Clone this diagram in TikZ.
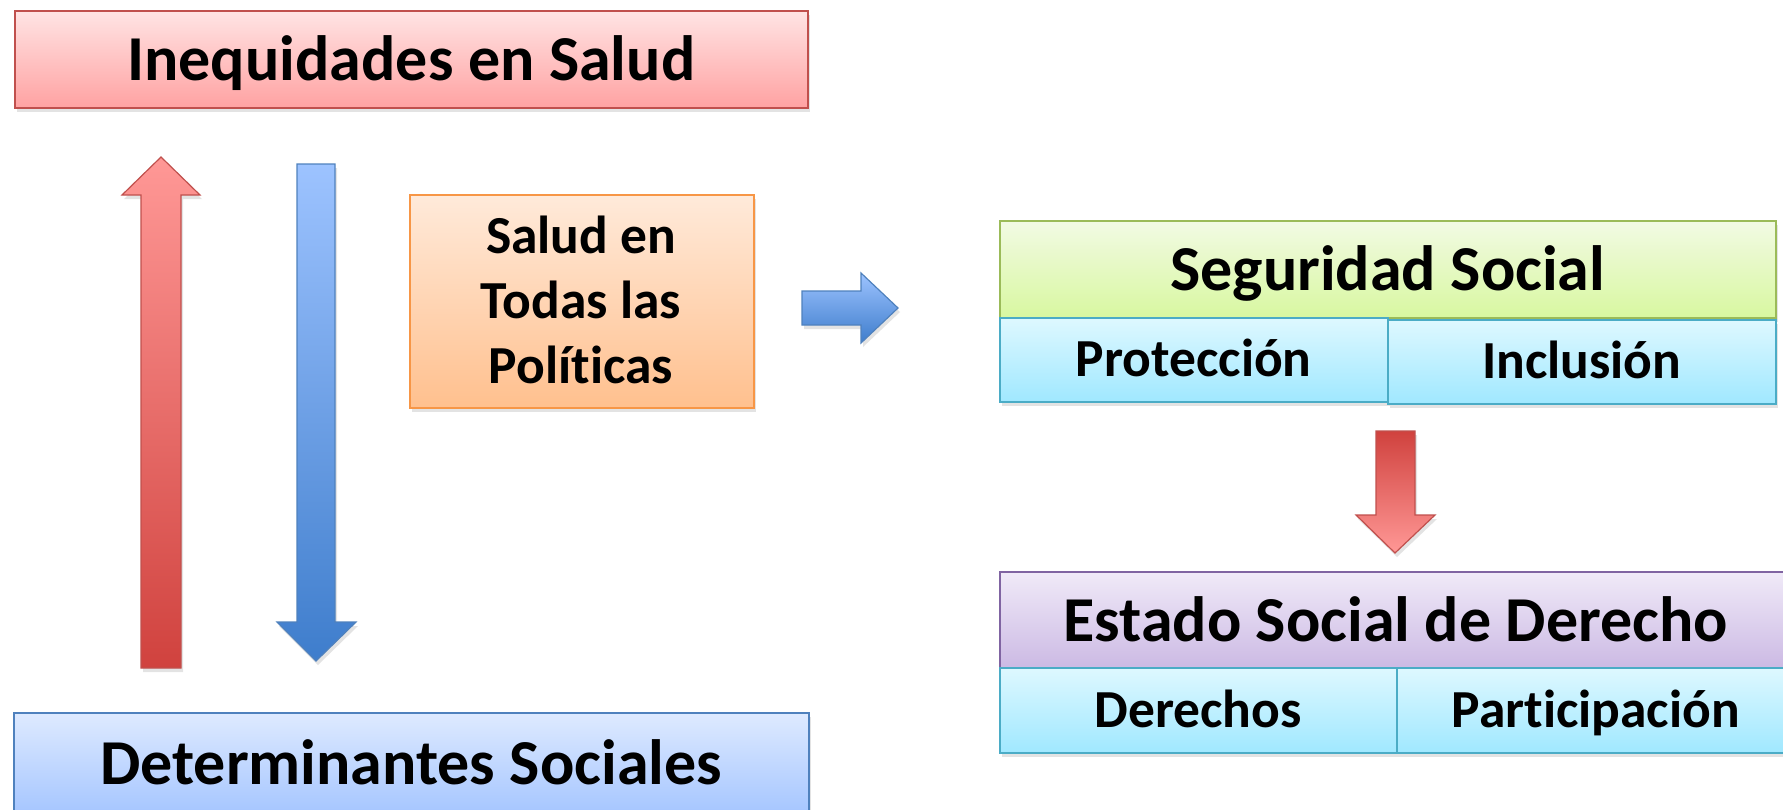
\documentclass[tikz,border=0pt]{standalone}
\usepackage{fontspec}
\setmainfont{Carlito}[Ligatures=NoCommon]
\usetikzlibrary{shadows}
\definecolor{redB}{RGB}{192,80,77}
\definecolor{redT}{RGB}{255,228,228}
\definecolor{redM}{RGB}{255,162,162}
\definecolor{arrRedL}{RGB}{255,152,150}
\definecolor{arrRedD}{RGB}{208,66,62}
\definecolor{bluB}{RGB}{79,129,189}
\definecolor{bluT}{RGB}{222,234,255}
\definecolor{bluM}{RGB}{166,198,255}
\definecolor{arrBluL}{RGB}{157,195,255}
\definecolor{arrBluD}{RGB}{62,125,204}
\definecolor{orgB}{RGB}{247,150,70}
\definecolor{orgT}{RGB}{255,234,218}
\definecolor{orgM}{RGB}{255,192,142}
\definecolor{grnB}{RGB}{155,187,89}
\definecolor{grnT}{RGB}{242,250,228}
\definecolor{grnM}{RGB}{216,248,160}
\definecolor{cyaB}{RGB}{75,172,198}
\definecolor{cyaT}{RGB}{222,248,255}
\definecolor{cyaM}{RGB}{160,232,255}
\definecolor{purB}{RGB}{128,100,162}
\definecolor{purT}{RGB}{240,234,248}
\definecolor{purM}{RGB}{204,186,228}
\begin{document}
\begin{tikzpicture}[x=1pt,y=-1pt,
  shad/.style={drop shadow={opacity=0.22,shadow xshift=2pt,shadow yshift=-4pt}},
  bigbox/.style={draw, line width=1.5pt, inner sep=0pt, anchor=north west,
    font=\bfseries\fontsize{64}{70}\selectfont, text height=43pt, text depth=0pt, shad},
  cellbox/.style={draw, line width=1.5pt, inner sep=0pt, anchor=north west,
    font=\bfseries\fontsize{53.5}{60}\selectfont, text height=34pt, text depth=0pt, shad,
    top color=cyaT, bottom color=cyaM, draw=cyaB},
  saludtxt/.style={anchor=base, font=\bfseries\fontsize{53.5}{60}\selectfont, inner sep=0pt},
  arrowshape/.style={line width=1.2pt, shad}
]
\useasboundingbox (0,0) rectangle (1783,809);

% left boxes
\node[bigbox, top color=redT, bottom color=redM, draw=redB,
  minimum width=793pt, minimum height=97pt] (ineq) at (14,10) {Inequidades en Salud};
\node[bigbox, top color=bluT, bottom color=bluM, draw=bluB,
  minimum width=795pt, minimum height=100pt] (det) at (13,712) {Determinantes Sociales};

% Salud en Todas las Politicas
\node[draw=orgB, line width=1.5pt, inner sep=0pt, anchor=north west, shad,
  top color=orgT, bottom color=orgM, minimum width=344pt, minimum height=213pt] (salud) at (409,194) {};
\node[saludtxt] (s1) at (581,253) {Salud en};
\node[saludtxt] (s2) at (581,318) {Todas las};
\node[saludtxt] (s3) at (581,383) {Políticas};

% right boxes
\node[bigbox, top color=grnT, bottom color=grnM, draw=grnB,
  minimum width=776pt, minimum height=97pt] (seg) at (999,220) {Seguridad Social};
\node[cellbox, minimum width=388pt, minimum height=84pt] (prot) at (999,317) {Protección};
\node[cellbox, minimum width=388pt, minimum height=84pt] (incl) at (1387,319) {Inclusión};

\node[bigbox, top color=purT, bottom color=purM, draw=purB,
  minimum width=792pt, minimum height=96pt] (estado) at (999,571) {Estado Social de Derecho};
\node[cellbox, minimum width=397pt, minimum height=85pt] (der) at (999,667) {Derechos};
\node[cellbox, minimum width=398pt, minimum height=85pt] (part) at (1396,667) {Participación};

% block arrows
\draw[arrowshape, draw=redB, top color=arrRedL, bottom color=arrRedD]
  (141,668) -- (141,195) -- (122,195) -- (161,157) -- (200,195) -- (181,195) -- (181,668) -- cycle;
\draw[arrowshape, draw=bluB, top color=arrBluL, bottom color=arrBluD]
  (297,164) -- (335,164) -- (335,622) -- (356,622) -- (316,661) -- (277,622) -- (297,622) -- cycle;
\draw[arrowshape, draw=bluB, top color=arrBluL, bottom color=arrBluD]
  (802,291) -- (861,291) -- (861,273) -- (898,308) -- (861,343) -- (861,325) -- (802,325) -- cycle;
\draw[arrowshape, draw=redB, top color=arrRedD, bottom color=arrRedL]
  (1376,431) -- (1415,431) -- (1415,515) -- (1435,515) -- (1395,553) -- (1356,515) -- (1376,515) -- cycle;
\end{tikzpicture}
\end{document}
